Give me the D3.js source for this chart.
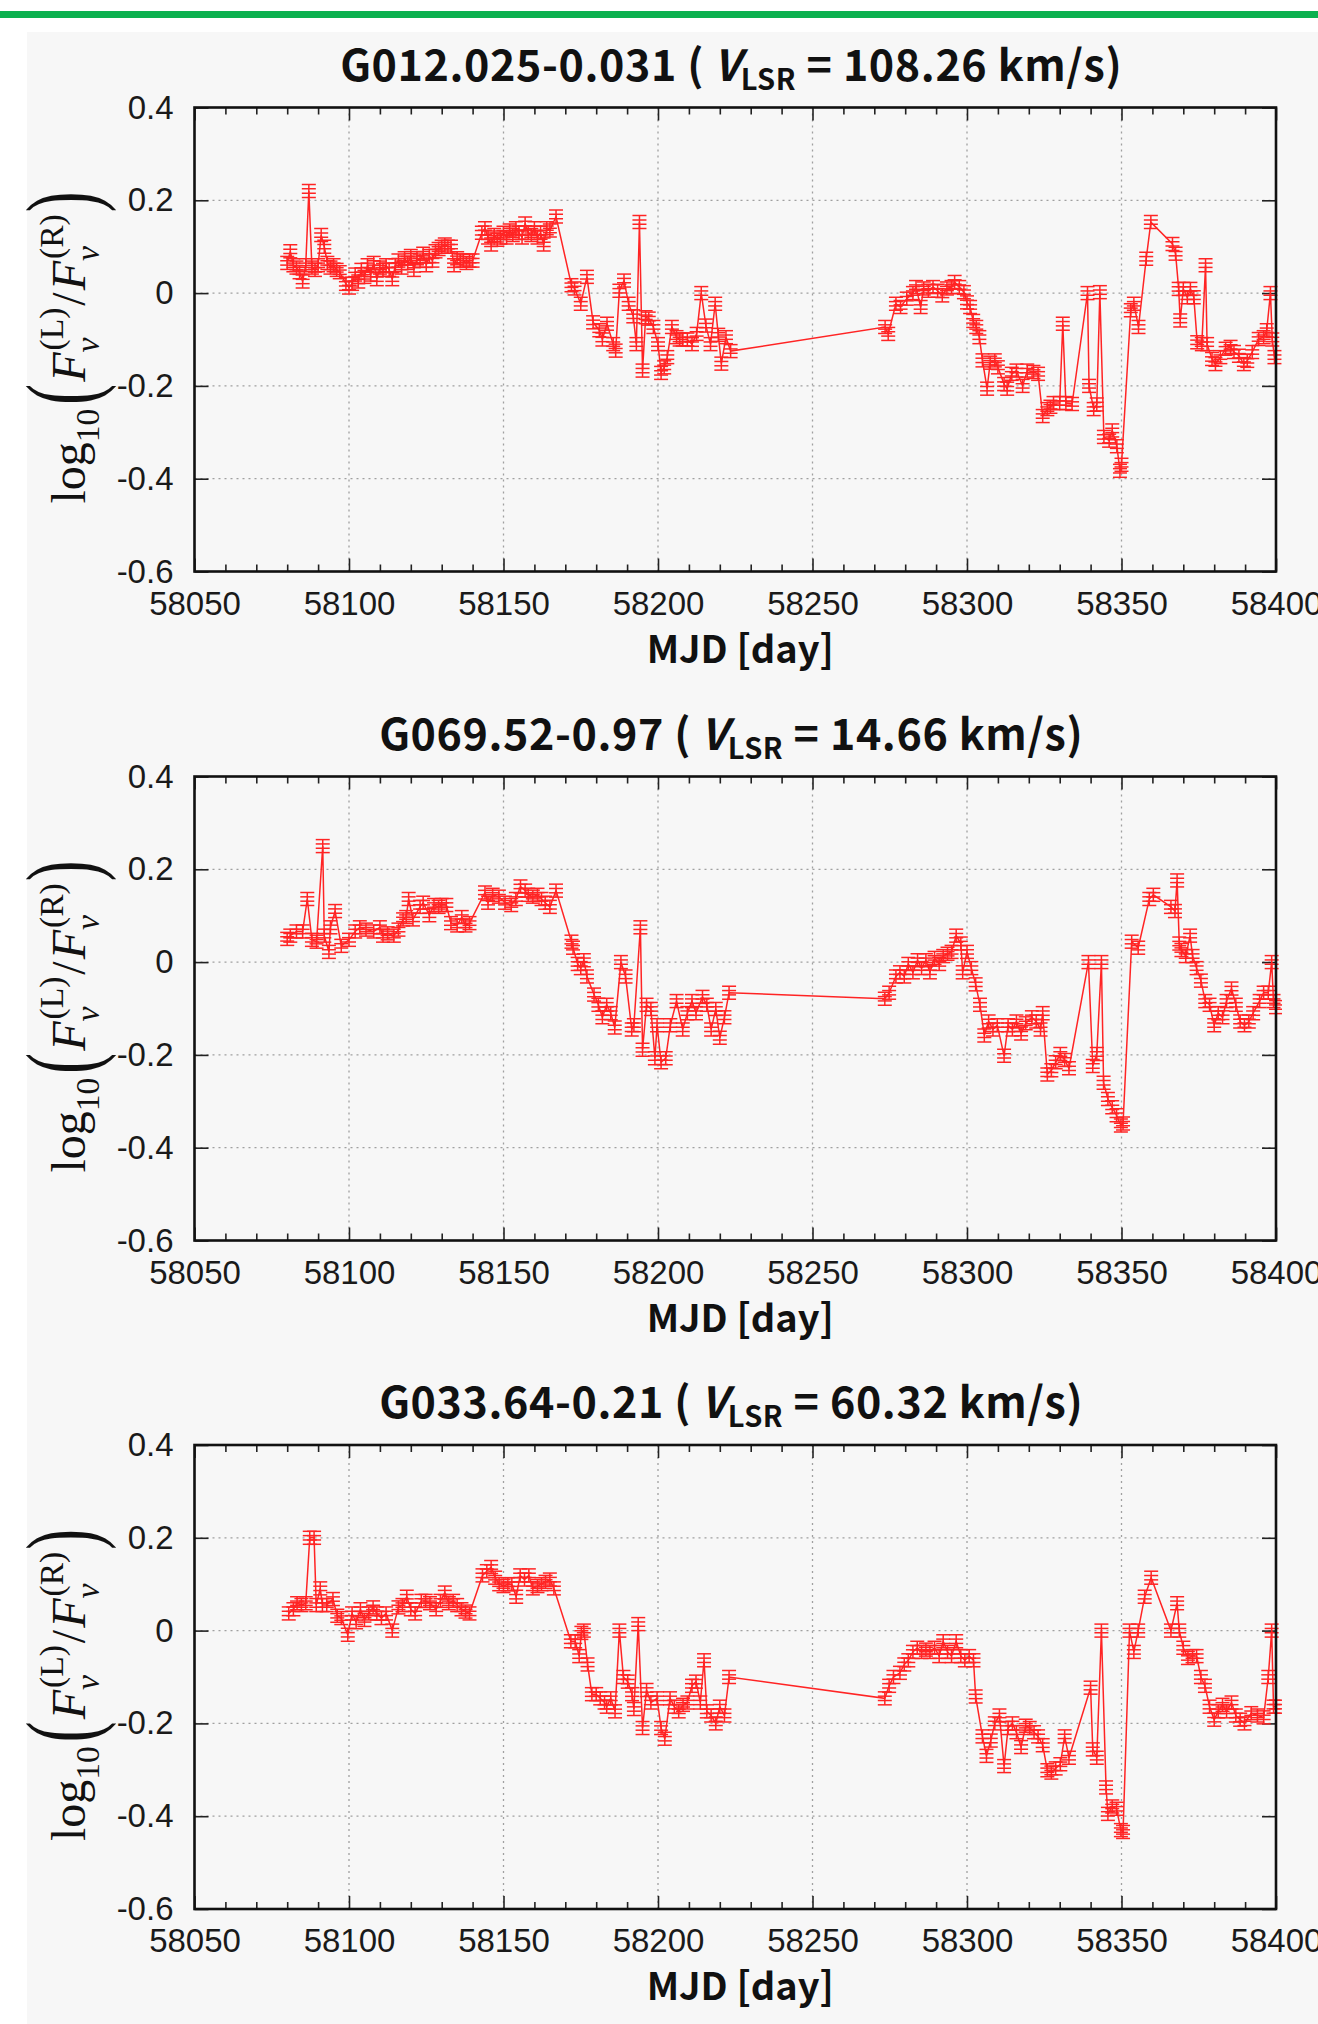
<!DOCTYPE html>
<html>
<head>
<meta charset="utf-8">
<script src="https://cdn.jsdelivr.net/npm/d3@7"></script>
<style>
  body { margin: 0; background: #fff; }
</style>
</head>
<body>
<div id="wrapper"></div>
<script>
// ---- data ----
const sources = ["G012.025-0.031", "G069.52-0.97", "G033.64-0.21"]
const vlsr = ["108.26", "14.66", "60.32"]
const xTicks = [58050, 58100, 58150, 58200, 58250, 58300, 58350, 58400]
const yTicks = [-0.6, -0.4, -0.2, 0, 0.2, 0.4]
const errHalf = 0.014   // half length of the error bars, log units

// [MJD, log10(FL/FR)]
const series1 = [
  [58080,0.065],[58081,0.09],[58082,0.06],[58083,0.055],[58084,0.045],[58085,0.025],[58086,0.06],[58087,0.22],
  [58088,0.055],[58089,0.05],[58090,0.06],[58091,0.125],[58092,0.1],[58093,0.065],[58094,0.055],[58095,0.06],
  [58096,0.05],[58097,0.045],[58099,0.02],[58100,0.012],[58101,0.02],[58102,0.04],[58103,0.025],[58104,0.05],
  [58105,0.035],[58106,0.06],[58107,0.04],[58108,0.065],[58109,0.03],[58110,0.055],[58111,0.05],[58112,0.06],
  [58113,0.05],[58114,0.03],[58115,0.06],[58116,0.07],[58117,0.055],[58118,0.075],[58119,0.065],[58120,0.08],
  [58121,0.05],[58122,0.075],[58123,0.07],[58124,0.085],[58125,0.06],[58126,0.08],[58127,0.07],[58128,0.09],
  [58129,0.095],[58130,0.1],[58131,0.105],[58132,0.1],[58133,0.1],[58134,0.06],[58135,0.075],[58136,0.07],
  [58137,0.07],[58138,0.065],[58139,0.07],[58140,0.07],[58143,0.13],[58144,0.14],[58145,0.12],[58146,0.105],
  [58147,0.125],[58148,0.115],[58149,0.12],[58150,0.13],[58151,0.12],[58152,0.135],[58153,0.125],[58154,0.14],
  [58155,0.13],[58156,0.12],[58157,0.15],[58158,0.13],[58159,0.125],[58160,0.14],[58161,0.12],[58162,0.13],
  [58163,0.105],[58164,0.14],[58165,0.135],[58167,0.165],[58172,0.017],[58173,0.01],[58175,-0.023],[58177,0.035],
  [58179,-0.063],[58181,-0.08],[58182,-0.1],[58183.5,-0.066],[58185.5,-0.11],[58186.3,-0.124],[58187.5,0.005],
  [58189,0.027],[58190.5,-0.023],[58192,-0.05],[58193,-0.11],[58194,0.153],[58195,-0.167],[58196,-0.052],
  [58197,-0.055],[58198.5,-0.073],[58200,-0.11],[58201,-0.172],[58202,-0.16],[58203,-0.138],[58204.5,-0.073],
  [58206,-0.095],[58207,-0.1],[58208,-0.1],[58209.5,-0.1],[58211,-0.11],[58212.5,-0.088],[58214,0.0],
  [58215.5,-0.07],[58217,-0.11],[58218.5,-0.023],[58219.5,-0.09],[58220.5,-0.152],[58222,-0.095],[58223.5,-0.125],
  [58273.5,-0.073],[58274.5,-0.088],[58277,-0.023],[58278.5,-0.03],[58280.5,-0.012],[58282.5,0.0],[58283.5,0.013],
  [58285,-0.03],[58286,0.01],[58287.5,0.005],[58289,0.013],[58290.5,0.005],[58292,-0.005],[58293.5,0.01],
  [58295,0.013],[58296,0.024],[58297.5,0.013],[58299,0.002],[58300,-0.02],[58301,-0.03],[58302,-0.06],
  [58303,-0.073],[58304,-0.095],[58305,-0.145],[58306.5,-0.206],[58307.5,-0.15],[58309,-0.145],[58310,-0.16],
  [58312,-0.196],[58313,-0.206],[58314.5,-0.174],[58316,-0.167],[58318,-0.2],[58319.5,-0.167],[58321.5,-0.17],
  [58323,-0.174],[58324.5,-0.265],[58326,-0.25],[58327,-0.245],[58328,-0.237],[58330,-0.237],[58331,-0.066],
  [58332,-0.237],[58334,-0.239],[58339,0.0],[58339.5,-0.2],[58341,-0.25],[58342,-0.24],[58343,0.002],
  [58344.3,-0.31],[58346,-0.318],[58347,-0.296],[58348.5,-0.33],[58349.5,-0.383],[58350,-0.37],[58353,-0.037],
  [58354,-0.023],[58355.5,-0.073],[58358,0.074],[58359.5,0.153],[58366.5,0.106],[58367.5,0.085],[58368.5,0.009],
  [58369,-0.059],[58370,0.009],[58371.3,-0.009],[58372.3,0.009],[58373.4,-0.009],[58374.5,-0.106],[58376,-0.11],
  [58377.2,0.06],[58377.7,-0.11],[58379.3,-0.142],[58380.4,-0.153],[58382,-0.138],[58383.7,-0.12],[58385.3,-0.116],
  [58386.4,-0.127],[58388,-0.135],[58389.6,-0.153],[58390.7,-0.146],[58392.3,-0.127],[58394.4,-0.099],[58396,-0.095],
  [58397,-0.08],[58398.2,0.0],[58398.8,-0.1],[58399.5,-0.138]
]

const series2 = [
  [58080,0.05],[58081,0.057],[58083,0.066],[58085,0.066],[58086.5,0.136],[58088,0.048],[58089.5,0.044],[58091.5,0.25],
  [58092,0.057],[58093.5,0.022],[58094,0.075],[58095.5,0.11],[58097.5,0.035],[58100,0.048],[58102,0.066],[58103.5,0.075],
  [58105.5,0.07],[58108,0.066],[58110,0.075],[58111,0.057],[58112.5,0.062],[58114.5,0.057],[58116,0.07],[58117.5,0.092],
  [58118.5,0.097],[58119.3,0.136],[58120.7,0.092],[58123,0.119],[58124,0.128],[58126,0.101],[58127.5,0.123],[58129,0.119],
  [58130,0.123],[58131.5,0.123],[58133,0.084],[58135,0.079],[58136.5,0.097],[58137.7,0.079],[58139,0.084],[58144,0.15],
  [58145,0.128],[58146.5,0.145],[58148.5,0.141],[58150.5,0.128],[58152.5,0.123],[58154,0.136],[58155.5,0.163],[58157,0.154],
  [58158,0.145],[58159.5,0.141],[58161,0.145],[58162.3,0.136],[58163.5,0.128],[58165,0.119],[58167,0.154],[58172,0.044],
  [58172.5,0.031],[58174,-0.004],[58175,-0.013],[58176,0.004],[58177,-0.031],[58179.3,-0.07],[58180.7,-0.092],[58182,-0.119],
  [58183.4,-0.092],[58184.7,-0.11],[58186,-0.141],[58188,0.0],[58189.5,-0.031],[58191.5,-0.145],[58192.2,-0.136],[58194.3,0.075],
  [58195,-0.189],[58196.3,-0.092],[58197.7,-0.101],[58199,-0.207],[58199.7,-0.136],[58201,-0.216],[58202.5,-0.207],[58204,-0.136],
  [58206,-0.084],[58208,-0.145],[58209.5,-0.11],[58211,-0.084],[58212.3,-0.11],[58214.4,-0.075],[58215.8,-0.092],[58217.2,-0.145],
  [58218.7,-0.101],[58220,-0.163],[58221.5,-0.119],[58223,-0.066],
  [58273.4,-0.079],[58274.8,-0.066],[58277,-0.031],[58278.3,-0.022],[58279.7,-0.031],[58281,-0.004],[58282.5,-0.022],[58284,0.004],
  [58285.3,-0.013],[58286.7,0.004],[58288,-0.022],[58289.5,0.009],[58291,-0.004],[58292.3,0.013],[58293.7,0.018],[58295,0.022],
  [58296.5,0.057],[58298,0.04],[58298.6,-0.022],[58300,0.022],[58301.4,-0.013],[58302.8,-0.048],[58304.2,-0.092],[58305.6,-0.158],
  [58307,-0.128],[58308.4,-0.145],[58309.8,-0.136],[58312,-0.202],[58313.3,-0.136],[58314.7,-0.145],[58316,-0.128],[58317.5,-0.154],
  [58319,-0.132],[58321,-0.119],[58322.4,-0.128],[58323.8,-0.145],[58324.5,-0.11],[58326,-0.242],[58327.3,-0.233],[58328.7,-0.216],
  [58330.2,-0.198],[58331.6,-0.211],[58333,-0.229],[58339.3,0.0],[58340.7,-0.224],[58342,-0.198],[58343.5,0.0],[58344.2,-0.26],
  [58345.6,-0.295],[58347,-0.313],[58348.4,-0.33],[58349.8,-0.352],[58350.5,-0.348],[58353.3,0.044],[58355.4,0.031],[58359,0.136],
  [58360.3,0.145],[58366,0.119],[58367.3,0.11],[58368,0.176],[58368.7,0.04],[58369.4,0.026],[58370.8,0.013],[58372.2,0.057],
  [58373,0.013],[58374.3,-0.013],[58375.7,-0.04],[58377.1,-0.084],[58378.5,-0.092],[58380,-0.136],[58381.3,-0.11],[58382.7,-0.119],
  [58384,-0.084],[58385.6,-0.057],[58387,-0.092],[58388.4,-0.128],[58389.8,-0.136],[58391.2,-0.128],[58392.6,-0.11],[58394.7,-0.084],
  [58396,-0.066],[58397.5,-0.066],[58398.6,0.0],[58399.2,-0.084],[58400,-0.097]
]

const series3 = [
  [58080.5,0.037],[58082,0.046],[58083.2,0.059],[58084.6,0.055],[58086,0.059],[58087.3,0.2],[58088.7,0.2],[58089.4,0.055],
  [58090.7,0.091],[58091.4,0.055],[58092.8,0.055],[58094.8,0.068],[58096.2,0.032],[58097.5,0.027],[58099.6,-0.009],[58101,0.037],
  [58102.3,0.018],[58103.7,0.046],[58105,0.023],[58106.4,0.037],[58107.8,0.05],[58109,0.037],[58110.5,0.027],[58112,0.037],
  [58114,0.0],[58116,0.05],[58117.3,0.055],[58118.7,0.073],[58120,0.046],[58121.4,0.037],[58123.4,0.064],[58124.8,0.064],
  [58126.2,0.059],[58128.2,0.046],[58129.6,0.064],[58131,0.082],[58132.3,0.059],[58133.7,0.064],[58135,0.055],[58136.4,0.046],
  [58137.7,0.041],[58139,0.037],[58143.2,0.119],[58144.6,0.128],[58146,0.137],[58147.3,0.114],[58148.6,0.1],[58150,0.096],
  [58151.4,0.1],[58152.7,0.1],[58154.1,0.073],[58155.4,0.119],[58156.8,0.11],[58158.2,0.119],[58159.5,0.091],[58161,0.096],
  [58162.3,0.1],[58163.6,0.105],[58165,0.11],[58166.3,0.091],[58171.8,-0.023],[58173.2,-0.023],[58174.5,-0.055],[58175.2,-0.005],
  [58176,0.0],[58177.2,-0.073],[58178.6,-0.137],[58180,-0.137],[58181.3,-0.146],[58182.7,-0.155],[58183.4,-0.164],[58184.7,-0.146],
  [58186.1,-0.174],[58187.5,0.0],[58188.8,-0.1],[58190.2,-0.11],[58191.6,-0.137],[58192.2,-0.169],[58193.6,0.014],[58195,-0.21],
  [58196.3,-0.128],[58197.7,-0.155],[58199.7,-0.146],[58201,-0.21],[58202.2,-0.233],[58203.9,-0.146],[58205.3,-0.164],[58206.7,-0.174],
  [58208.1,-0.16],[58209.5,-0.155],[58211,-0.119],[58212.3,-0.11],[58213.7,-0.155],[58214.9,-0.064],[58215.8,-0.174],[58217.2,-0.183],
  [58218.7,-0.2],[58220,-0.164],[58221.5,-0.183],[58223,-0.1],
  [58273.4,-0.146],[58274.8,-0.119],[58276.2,-0.1],[58278.3,-0.091],[58279.7,-0.073],[58281,-0.064],[58282.5,-0.046],[58283.9,-0.037],
  [58285.3,-0.046],[58286.7,-0.041],[58288,-0.046],[58289.5,-0.037],[58291,-0.055],[58292.3,-0.023],[58293.7,-0.046],[58295,-0.055],
  [58296.5,-0.023],[58298,-0.055],[58299.3,-0.064],[58300.7,-0.055],[58302.1,-0.064],[58302.8,-0.142],[58305,-0.228],[58306.3,-0.27],
  [58307.7,-0.237],[58309,-0.2],[58310.5,-0.183],[58312,-0.292],[58313.3,-0.21],[58314.7,-0.2],[58316,-0.219],[58317.5,-0.251],
  [58319,-0.205],[58320.3,-0.21],[58321.7,-0.219],[58323,-0.228],[58324.5,-0.247],[58326,-0.301],[58327.3,-0.306],[58328.7,-0.297],
  [58330.2,-0.288],[58331.6,-0.228],[58333,-0.274],[58340,-0.123],[58340.7,-0.256],[58342,-0.274],[58343.5,0.0],[58345,-0.338],
  [58345.6,-0.395],[58347,-0.379],[58348.4,-0.384],[58349.8,-0.43],[58350.5,-0.434],[58352.6,0.0],[58354,-0.046],[58355.4,0.0],
  [58357.5,0.073],[58359.6,0.114],[58366,0.0],[58368,0.059],[58368.7,0.0],[58370,-0.037],[58371.5,-0.059],[58373,-0.055],
  [58374.3,-0.055],[58375.7,-0.1],[58377,-0.119],[58378.5,-0.164],[58380,-0.192],[58381.3,-0.174],[58382.7,-0.16],[58384,-0.174],
  [58385.6,-0.155],[58387,-0.183],[58388.4,-0.192],[58389.8,-0.2],[58392,-0.178],[58394,-0.183],[58396,-0.187],[58397.5,-0.1],
  [58398.6,0.0],[58399.2,-0.164],[58400,-0.164]
]

const allSeries = [series1, series2, series3]

// ---- layout ----
width = 1318
height = 2024
const left = 194.5, right = 1276
const panelTop = [107.5, 776.5, 1445]
const panelH = 464
const red = "#ff2424"
const tickFont = "'Liberation Sans', Arial, sans-serif"
const boldFont = "'Noto Sans CJK JP', 'Noto Sans', sans-serif"
const serif = "'Liberation Serif', 'DejaVu Serif', serif"

const svg = d3.select("#wrapper").append("svg")
    .attr("width", width)
    .attr("height", height)

// page decoration: green rule and pale grey panel
svg.append("rect").attr("x", 0).attr("y", 11).attr("width", width).attr("height", 7).attr("fill", "#0bb14f")
svg.append("rect").attr("x", 27).attr("y", 32).attr("width", width - 27).attr("height", height - 32).attr("fill", "#f7f7f7")

const x = d3.scaleLinear().domain([58050, 58400]).range([left, right])
const minorTicks = d3.range(58050, 58401, 10).filter(d => (d - 58050) % 50 !== 0)

// lays out a run of text pieces along a baseline (used for the TeX-like y label)
function flowText(g, pieces) {
    let cx = 0, mark = 0, w0 = 0
    pieces.forEach(p => {
        const px = p.over ? mark : cx
        const t = g.append("text")
            .attr("x", px + (p.dx || 0))
            .attr("y", p.dy || 0)
            .style("font-family", serif)
            .style("font-size", p.s + "px")
            .style("font-style", p.it ? "italic" : "normal")
            .attr("fill", "#111")
            .text(p.t)
        if (p.stretch) {
            // tall thin delimiter: stretch about its own middle
            const c = (p.dy || 0) - 0.255 * p.s
            t.attr("transform", `translate(0,${c}) scale(1,${p.stretch}) translate(0,${-c})`)
        }
        const w = t.node().getComputedTextLength() + (p.dx || 0)
        if (p.stack) { mark = cx; w0 = w; cx += w }
        else if (p.over) { cx = mark + Math.max(w0, w) + (p.gap || 0) }
        else cx += w + (p.gap || 0)
    })
    g.selectAll("text").attr("x", function () { return +this.getAttribute("x") - cx / 2 })
}

allSeries.forEach((data, k) => {
    const top = panelTop[k], bottom = top + panelH
    const y = d3.scaleLinear().domain([-0.6, 0.4]).range([bottom, top])
    const g = svg.append("g")

    // grid
    g.append("g").selectAll("line")
        .data(yTicks.slice(1, -1))
        .join("line")
        .attr("x1", left).attr("x2", right)
        .attr("y1", d => y(d)).attr("y2", d => y(d))
        .attr("stroke", "#a0a0a0").attr("stroke-width", 1.3).attr("stroke-dasharray", "2,4")
    g.append("g").selectAll("line")
        .data(xTicks.slice(1, -1))
        .join("line")
        .attr("x1", d => x(d)).attr("x2", d => x(d))
        .attr("y1", top).attr("y2", bottom)
        .attr("stroke", "#a0a0a0").attr("stroke-width", 1.3).attr("stroke-dasharray", "2,4")

    // axes
    const styleAxis = a => {
        a.select(".domain").remove()
        a.selectAll("line").attr("stroke", "#222").attr("stroke-width", 1.6)
    }
    g.append("g").attr("transform", `translate(0,${bottom})`)
        .call(d3.axisBottom(x).tickValues(xTicks).tickSize(-13).tickPadding(20).tickFormat(d3.format("d")))
        .call(styleAxis)
        .call(a => a.selectAll("text").style("font-family", tickFont).style("font-size", "33px").attr("fill", "#1a1a1a"))
    g.append("g").attr("transform", `translate(0,${bottom})`)
        .call(d3.axisBottom(x).tickValues(minorTicks).tickSize(-7).tickFormat(""))
        .call(styleAxis)
    g.append("g").attr("transform", `translate(0,${top})`)
        .call(d3.axisTop(x).tickValues(xTicks).tickSize(-13).tickFormat(""))
        .call(styleAxis)
    g.append("g").attr("transform", `translate(0,${top})`)
        .call(d3.axisTop(x).tickValues(minorTicks).tickSize(-7).tickFormat(""))
        .call(styleAxis)
    g.append("g").attr("transform", `translate(${left},0)`)
        .call(d3.axisLeft(y).tickValues(yTicks).tickSize(-14).tickPadding(21)
            .tickFormat(d => d === 0 ? "0" : d.toFixed(1)))
        .call(styleAxis)
        .call(a => a.selectAll("text").style("font-family", tickFont).style("font-size", "33px").attr("fill", "#1a1a1a"))
    g.append("g").attr("transform", `translate(${right},0)`)
        .call(d3.axisRight(y).tickValues(yTicks).tickSize(-14).tickFormat(""))
        .call(styleAxis)

    // data
    const clipId = "clip" + k
    svg.append("clipPath").attr("id", clipId)
        .append("rect").attr("x", left).attr("y", top - 20).attr("width", right - left + 6).attr("height", panelH + 40)
    const plot = g.append("g").attr("clip-path", `url(#${clipId})`)

    plot.append("path")
        .datum(data)
        .attr("fill", "none")
        .attr("stroke", red)
        .attr("stroke-width", 1.5)
        .attr("d", d3.line().x(d => x(d[0])).y(d => y(d[1])))

    const marks = plot.append("g")
        .attr("stroke", red)
        .attr("stroke-width", 1.5)
        .selectAll("g")
        .data(data)
        .join("g")
        .attr("transform", d => `translate(${x(d[0])},0)`)
    marks.append("line")
        .attr("y1", d => y(d[1] + errHalf)).attr("y2", d => y(d[1] - errHalf))
    marks.append("line")
        .attr("x1", -7).attr("x2", 7)
        .attr("y1", d => y(d[1] + errHalf)).attr("y2", d => y(d[1] + errHalf))
    marks.append("line")
        .attr("x1", -7).attr("x2", 7)
        .attr("y1", d => y(d[1] + errHalf / 3)).attr("y2", d => y(d[1] + errHalf / 3))
    marks.append("line")
        .attr("x1", -7).attr("x2", 7)
        .attr("y1", d => y(d[1] - errHalf / 3)).attr("y2", d => y(d[1] - errHalf / 3))
    marks.append("line")
        .attr("x1", -7).attr("x2", 7)
        .attr("y1", d => y(d[1] - errHalf)).attr("y2", d => y(d[1] - errHalf))

    // frame
    g.append("rect")
        .attr("x", left).attr("y", top)
        .attr("width", right - left).attr("height", panelH)
        .attr("fill", "none").attr("stroke", "#111").attr("stroke-width", 2.6)

    // title
    const title = g.append("text")
        .attr("x", (left + right) / 2 - 4)
        .attr("y", top - 27)
        .attr("text-anchor", "middle")
        .style("font-family", boldFont)
        .style("font-weight", "bold")
        .style("font-size", "43px")
        .style("letter-spacing", "0.6px")
        .attr("fill", "#111")
    title.append("tspan").text(sources[k] + " (\u2009")
    title.append("tspan").style("font-style", "italic").text("V")
    title.append("tspan").style("font-size", "29px").attr("dy", 9).text("LSR")
    title.append("tspan").attr("dy", -9).text(" = " + vlsr[k] + " km/s)")

    // x label
    g.append("text")
        .attr("x", (left + right) / 2 + 5)
        .attr("y", bottom + 91)
        .attr("text-anchor", "middle")
        .style("font-family", boldFont)
        .style("font-weight", "bold")
        .style("font-size", "38px")
        .attr("fill", "#111")
        .text("MJD [day]")

    // y label
    const S = 48
    const lab = g.append("g").attr("transform", `translate(85,${(top + bottom) / 2 + 8}) rotate(-90)`)
    flowText(lab, [
        { t: "log", s: S },
        { t: "10", s: S * 0.7, dy: S * 0.3, gap: 4 },
        { t: "(", s: S * 1.3, dy: 0, stretch: 1.6, gap: 2 },
        { t: "F", s: S, it: true },
        { t: "ν", s: S * 0.7, it: true, dy: S * 0.3, stack: true },
        { t: "(L)", s: S * 0.7, dy: -S * 0.45, over: true, dx: 2, gap: 2 },
        { t: "/", s: S, gap: 2 },
        { t: "F", s: S, it: true },
        { t: "ν", s: S * 0.7, it: true, dy: S * 0.3, stack: true },
        { t: "(R)", s: S * 0.7, dy: -S * 0.45, over: true, dx: 2, gap: 2 },
        { t: ")", s: S * 1.3, dy: 0, stretch: 1.6 }
    ])
})
</script>
</body>
</html>
